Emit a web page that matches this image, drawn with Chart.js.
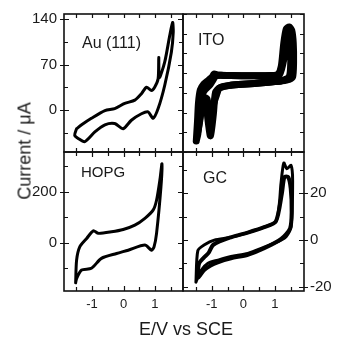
<!DOCTYPE html>
<html>
<head>
<meta charset="utf-8">
<script src="https://cdn.jsdelivr.net/npm/chart.js@4"></script>
<style>
  body { margin: 0; background: #fff; }
  #wrap { position: relative; width: 337px; height: 342px; overflow: hidden; }
  canvas { position: absolute; }
  .lbl { position: absolute; font-family: "Liberation Sans", Arial, sans-serif; color: #1a1a1a; white-space: nowrap; }
</style>
</head>
<body>
<div id="wrap">
  <canvas id="c-au" width="190" height="160" style="left:0;top:0"></canvas>
  <canvas id="c-ito" width="157" height="160" style="left:180px;top:0"></canvas>
  <canvas id="c-hopg" width="190" height="197" style="left:0;top:145px"></canvas>
  <canvas id="c-gc" width="157" height="197" style="left:180px;top:145px"></canvas>
  <div class="lbl" id="ylab" style="font-size:18px;left:25px;top:151px;transform:translate(-50%,-50%) rotate(-90deg)">Current / μA</div>
  <div class="lbl" id="xlab" style="font-size:18px;left:186px;top:329px;transform:translate(-50%,-50%)">E/V vs SCE</div>
</div>
<script>
// panel names
const panelNames = ["Au (111)", "ITO", "HOPG", "GC"];

// Au(111): potential (V) and current (uA) around the loop
const auE = [-1.49, -1.33, -1.02, -0.59, -0.28, 0.04, 0.36, 0.57, 0.73, 0.89, 0.99, 1.10, 1.12, 1.14, 1.31, 1.47, 1.56,
             1.58, 1.52, 1.31, 1.10, 0.94, 0.78, 0.57, 0.25, -0.01, -0.28, -0.59, -0.91, -1.23, -1.44, -1.55, -1.49];
const auI = [-29, -23, -13, -1, 2, 10, 15, 25, 35, 30, 35, 48, 81, 50, 74, 115, 135,
             120, 89, 38, 2, -13, -3, -6, -16, -29, -21, -23, -34, -49, -44, -39, -29];

// ITO, outer cycle
const itoE1 = [-1.49, -1.45, -1.42, -1.36, -1.25, -1.1, -0.98, -0.93, -0.8, -0.4, 0.3, 0.9, 1.1, 1.2, 1.28, 1.36, 1.45, 1.53, 1.58, 1.59, 1.56, 1.45, 1.2,
               1.0, 0.6, 0.1, -0.4, -0.75, -0.88, -0.95, -1.04, -1.1, -1.17, -1.26, -1.35, -1.44, -1.49];
const itoI1 = [-455, -300, -160, -60, -15, 15, 40, 62, 55, 50, 48, 50, 60, 120, 300, 410, 425, 400, 300, 150, 40, 20, 8,
               3, -6, -15, -25, -45, -80, -250, -415, -330, -200, -150, -230, -400, -455];
// ITO, inner cycle
const itoE2 = [-1.44, -1.4, -1.33, -1.22, -1.05, -0.95, -0.85, -0.4, 0.3, 0.9, 1.15, 1.3, 1.38, 1.45, 1.5, 1.5, 1.45, 1.2,
               1.0, 0.6, 0.1, -0.4, -0.75, -0.85, -0.95, -1.02, -1.08, -1.15, -1.25, -1.32, -1.38, -1.44];
const itoI2 = [-380, -200, -110, -60, -20, 20, 50, 50, 48, 50, 60, 200, 350, 390, 330, 150, 40, 8,
               3, -6, -15, -25, -45, -100, -180, -320, -250, -130, -120, -200, -300, -380];

// HOPG
const hopgE = [-1.52, -1.49, -1.39, -1.17, -0.96, -0.8, -0.38, -0.01, 0.36, 0.68, 0.94, 1.05, 1.16, 1.22,
               1.19, 1.05, 0.97, 0.89, 0.68, 0.15, -0.22, -0.7, -1.02, -1.33, -1.49, -1.52];
const hopgI = [-157, -68, -16, 17, 47, 37, 43, 52, 69, 96, 128, 167, 250, 310,
               220, 37, -16, -29, -9, -29, -42, -61, -100, -107, -140, -157];

// GC, outer cycle
const gcE1 = [-1.5, -1.44, -1.23, -0.92, -0.39, 0.14, 0.66, 1.03, 1.14, 1.19, 1.28, 1.38, 1.51,
              1.56, 1.51, 1.35, 1.19, 0.66, 0.14, -0.39, -0.81, -1.13, -1.34, -1.5];
const gcI1 = [-18, -4.5, -2, 0, 1.2, 3.2, 5.5, 8, 15.7, 24, 33, 30.5, 32,
              25.5, 5.7, 1.4, 0, -3, -5.7, -7, -8.6, -10, -13, -18];
// GC, inner cycle
const gcE2 = [-1.46, -1.4, -1.25, -1.1, -0.95, -0.39, 0.14, 0.66, 1.03, 1.22, 1.3, 1.42, 1.5, 1.53, 1.48, 1.2,
              0.66, 0.14, -0.39, -0.81, -1.05, -1.25, -1.42, -1.46];
const gcI2 = [-16, -10, -7.5, -5.5, -2, 1.2, 3.2, 5.5, 8, 20, 27, 27, 22, 12, 5, 0.5,
              -3.5, -6.3, -7.8, -9.5, -11, -13, -16, -16];

// axis ranges / ticks
const xTickStep = 0.5;
const xLabels = [-1, 0, 1];
const auTicks = [0, 70, 140];
const itoTicks = [-300, 0, 300];
const hopgTicks = [0, 200];
const gcTicks = [-20, 0, 20];

Chart.defaults.font.family = '"Liberation Sans", Arial, sans-serif';
Chart.defaults.color = "#1a1a1a";

const frameTicks = {
    id: "frameTicks",
    afterDraw(chart) {
        const ctx = chart.ctx;
        const a = chart.chartArea;
        const xs = chart.scales.x, ys = chart.scales.y;
        const yRight = ys.position === "right";
        ctx.save();
        ctx.strokeStyle = "#111";
        ctx.lineWidth = 1.2;
        ctx.beginPath();
        xs.ticks.forEach(t => {
            const px = Math.round(xs.getPixelForValue(t.value)) + 0.5;
            const len = t.label !== "" ? 5 : 4;
            ctx.moveTo(px, a.bottom); ctx.lineTo(px, a.bottom - len);
            ctx.moveTo(px, a.top); ctx.lineTo(px, a.top + len);
        });
        ys.ticks.forEach(t => {
            const py = Math.round(ys.getPixelForValue(t.value)) + 0.5;
            const major = t.label !== "";
            const len = major ? 5 : 4;
            const out = major ? 4 : 0;
            if (yRight) {
                ctx.moveTo(a.right + out, py); ctx.lineTo(a.right - len, py);
                ctx.moveTo(a.left, py); ctx.lineTo(a.left + len, py);
            } else {
                ctx.moveTo(a.left - out, py); ctx.lineTo(a.left + len, py);
                ctx.moveTo(a.right, py); ctx.lineTo(a.right - len, py);
            }
        });
        ctx.stroke();
        ctx.lineWidth = 1.6;
        ctx.strokeRect(a.left, a.top, a.width, a.height);
        // panel name
        const p = chart.options.plugins.frameTicks;
        ctx.fillStyle = "#1a1a1a";
        ctx.font = p.size + 'px "Liberation Sans", Arial, sans-serif';
        ctx.textBaseline = "middle";
        ctx.fillText(p.name, a.left + p.dx, a.top + p.dy);
        ctx.restore();
    }
};

function loop(E, I, lw) {
    return {
        data: E.map((e, i) => ({ x: e, y: I[i] })),
        showLine: true,
        borderColor: "#000",
        borderWidth: lw,
        pointRadius: 0,
        tension: 0.25,
        borderJoinStyle: "round",
        borderCapStyle: "round",
    };
}

function makePanel(id, datasets, o) {
    new Chart(document.getElementById(id), {
        type: "scatter",
        data: { datasets: datasets },
        options: {
            responsive: false,
            animation: false,
            events: [],
            layout: { padding: o.pad, autoPadding: false },
            plugins: {
                legend: { display: false },
                tooltip: { enabled: false },
                frameTicks: { name: o.name, dx: o.dx, dy: o.dy, size: o.size },
            },
            scales: {
                x: {
                    type: "linear",
                    min: o.xmin, max: o.xmax,
                    grid: { display: false, drawTicks: false },
                    border: { display: false },
                    ticks: {
                        stepSize: xTickStep,
                        includeBounds: false,
                        autoSkip: false,
                        maxRotation: 0,
                        padding: 6,
                        font: { size: 13 },
                        callback: v => (o.xlab && xLabels.includes(v) ? String(v) : ""),
                    },
                    afterFit: s => {
                        s.height = o.xh;
                        s.paddingLeft = s.paddingRight = s.paddingTop = s.paddingBottom = 0;
                    },
                },
                y: {
                    type: "linear",
                    position: o.ypos,
                    min: o.ymin, max: o.ymax,
                    grid: { display: false, drawTicks: false },
                    border: { display: false },
                    ticks: {
                        stepSize: o.ystep,
                        includeBounds: false,
                        autoSkip: false,
                        padding: o.ypos === "left" ? 7 : 6,
                        font: { size: 15 },
                        callback: v => (o.ylabels.includes(v) ? String(v) : ""),
                    },
                    afterFit: s => {
                        s.width = o.yw;
                        s.paddingLeft = s.paddingRight = s.paddingTop = s.paddingBottom = 0;
                    },
                },
            },
        },
        plugins: [frameTicks],
    });
}

makePanel("c-au", [loop(auE, auI, 3)], {
    name: panelNames[0], dx: 18, dy: 30, size: 16,
    pad: { top: 14, right: 7, bottom: 8, left: 0 }, xh: 0, yw: 64, ypos: "left", xlab: false,
    xmin: -1.89, xmax: 1.89, ymin: -65, ymax: 148, ystep: 35, ylabels: auTicks,
});
makePanel("c-ito", [loop(itoE1, itoI1, 7), loop(itoE2, itoI2, 7)], {
    name: panelNames[1], dx: 15, dy: 27, size: 16,
    pad: { top: 14, right: 0, bottom: 8, left: 3 }, xh: 0, yw: 33, ypos: "right", xlab: false,
    xmin: -1.91, xmax: 1.92, ymin: -540, ymax: 525, ystep: 150, ylabels: itoTicks,
});
makePanel("c-hopg", [loop(hopgE, hopgI, 3)], {
    name: panelNames[2], dx: 17, dy: 21, size: 15,
    pad: { top: 7, right: 7, bottom: 0, left: 0 }, xh: 51, yw: 64, ypos: "left", xlab: true,
    xmin: -1.89, xmax: 1.89, ymin: -189, ymax: 356, ystep: 100, ylabels: hopgTicks,
});
makePanel("c-gc", [loop(gcE1, gcI1, 3), loop(gcE2, gcI2, 4)], {
    name: panelNames[3], dx: 20, dy: 27, size: 16,
    pad: { top: 7, right: 0, bottom: 0, left: 3 }, xh: 51, yw: 33, ypos: "right", xlab: true,
    xmin: -1.91, xmax: 1.92, ymin: -21.8, ymax: 37.7, ystep: 10, ylabels: gcTicks,
});
</script>
</body>
</html>
